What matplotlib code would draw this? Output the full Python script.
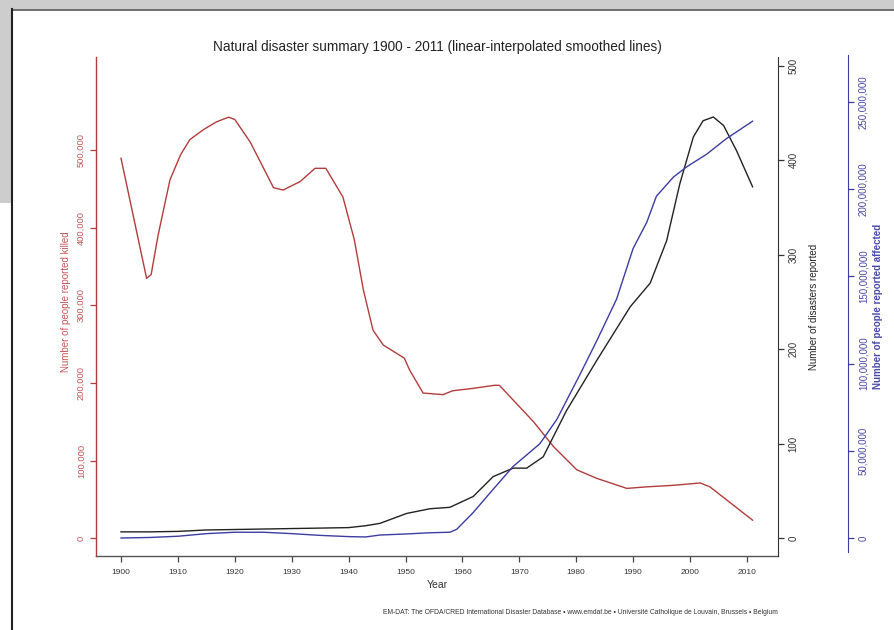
import numpy as np
import matplotlib
matplotlib.use("Agg")
import matplotlib.pyplot as plt
from matplotlib.patches import Rectangle
from matplotlib.lines import Line2D
from matplotlib.ticker import FuncFormatter

plt.rcParams['font.family'] = ['Liberation Sans', 'DejaVu Sans']

# people killed (red)
killed_years = [1900, 1904.5, 1905.3, 1906.5, 1908.6, 1910.5, 1912.1, 1914.5, 1916.8, 1918.9,
                1920, 1922.7, 1925, 1926.8, 1928.5, 1931.5, 1934.1, 1936, 1939, 1941,
                1942.6, 1944.3, 1946.1, 1949.8, 1950.7, 1953.1, 1956.6, 1958.3, 1961.8, 1965.6,
                1966.5, 1972.5, 1976, 1980.1, 1983.6, 1988.9, 1992.4, 1997.1, 2001.8, 2003.5, 2011]
killed = [490e3, 335e3, 340e3, 390e3, 462e3, 495e3, 514e3, 527e3, 537e3, 543e3,
          540e3, 511e3, 478e3, 452e3, 449e3, 460e3, 477e3, 477e3, 440e3, 385e3,
          320e3, 268e3, 249e3, 232e3, 217e3, 187e3, 185e3, 190e3, 193e3, 197e3,
          197e3, 150e3, 118e3, 88e3, 77e3, 64e3, 66e3, 68e3, 71e3, 66e3, 23e3]

# number of disasters (black)
disaster_years = [1900, 1905, 1910, 1915, 1920, 1930, 1940, 1943, 1945.5, 1950.2,
                  1954.3, 1957.8, 1961.9, 1965.4, 1968.9, 1971.3, 1974.2, 1978.3, 1983.6, 1989.5,
                  1993, 1995.9, 1998.2, 2000.6, 2002.3, 2004.1, 2005.9, 2008.2, 2011]
disasters = [6.5, 6.5, 7, 8.5, 9, 10, 11, 13, 15.5, 26,
             31, 32.5, 44, 65, 74, 74, 86, 135, 188, 245,
             270, 315, 375, 425, 442, 446, 437, 410, 372]

# people affected (blue), millions
affected_years = [1900, 1905, 1910, 1915, 1920, 1925, 1930, 1935, 1940, 1943,
                  1945.5, 1950, 1954.3, 1957.8, 1959, 1961.9, 1964.9, 1968.9, 1973.6, 1976.6,
                  1980.7, 1983.6, 1987.1, 1990, 1992.4, 1994.1, 1997.1, 1999.5, 2002.9, 2006.4, 2011]
affected_m = [0, 0.3, 1, 2.5, 3.3, 3.3, 2.5, 1.5, 0.8, 0.6,
              1.7, 2.3, 3, 3.3, 5, 14.6, 26, 41, 54, 68,
              94, 113, 137, 166, 181, 196, 207, 213, 220, 229, 239]

x_ticks = list(range(1900, 2011, 10))
killed_ticks = [0, 100e3, 200e3, 300e3, 400e3, 500e3]
disaster_ticks = [0, 100, 200, 300, 400, 500]
affected_ticks = [0, 50e6, 100e6, 150e6, 200e6, 250e6]

red = '#b23c3c'
red_txt = '#c45656'
blue = '#3c3ca2'
blue_txt = '#4848aa'
black = '#222222'

W, H = 894, 630
fig = plt.figure(figsize=(W / 100, H / 100), dpi=100)

# frame decoration
fig.add_artist(Rectangle((0, 1 - 9 / H), 1, 9 / H, transform=fig.transFigure,
                         facecolor='#cdcdcd', edgecolor='none'))
fig.add_artist(Rectangle((0, 1 - 203 / H), 12 / W, 203 / H, transform=fig.transFigure,
                         facecolor='#cdcdcd', edgecolor='none'))
fig.add_artist(Line2D([12 / W, 1], [1 - 9.5 / H, 1 - 9.5 / H], transform=fig.transFigure,
                      color='#555555', lw=1.2))
fig.add_artist(Line2D([11.5 / W, 11.5 / W], [0, 1 - 9 / H], transform=fig.transFigure,
                      color='#222222', lw=1.5))

left, right, top, bottom = 96, 778, 57, 556
ax = fig.add_axes([left / W, 1 - bottom / H, (right - left) / W, (bottom - top) / H])
ax.patch.set_alpha(0)

ax.set_xlim(1900 - 25 / 5.69, 1900 + (right - 121) / 5.69)
ax.set_ylim(-(bottom - 538) / 77.5 * 100e3, (538 - top) / 77.5 * 100e3)
ax.plot(killed_years, killed, color=red, lw=1.0)

ax.spines['top'].set_visible(False)
ax.spines['right'].set_visible(False)
ax.spines['left'].set_color(red)
ax.spines['bottom'].set_color('#555555')
ax.spines['left'].set_linewidth(1.0)
ax.spines['bottom'].set_linewidth(1.0)

ax.set_xticks(x_ticks)
ax.tick_params(axis='x', length=4.5, width=0.9, color='#444444', labelsize=6, pad=5, labelcolor='#333333')
ax.set_yticks(killed_ticks)
ax.yaxis.set_major_formatter(FuncFormatter(lambda v, p: f'{v:,.0f}'))
ax.tick_params(axis='y', length=4.5, width=0.9, color=red, labelsize=6.7, pad=3, labelcolor=red_txt)
for lab in ax.get_yticklabels():
    lab.set_rotation(90)
    lab.set_va('center')
    lab.set_ha('right')
ax.set_ylabel('Number of people reported killed', color=red_txt, fontsize=7)
ax.yaxis.set_label_coords(-0.037, 0.51)
ax.set_xlabel('Year', fontsize=7.5, color='#333333', labelpad=3)
ax.set_title('Natural disaster summary 1900 - 2011 (linear-interpolated smoothed lines)',
             fontsize=9.8, color='#222222', pad=4)

# disasters axis
ax2 = ax.twinx()
ax2.set_ylim(-(bottom - 538) / 94.4 * 100, (538 - top) / 94.4 * 100)
ax2.plot(disaster_years, disasters, color=black, lw=1.0)
for s in ['top', 'left', 'bottom']:
    ax2.spines[s].set_visible(False)
ax2.spines['right'].set_color('#333333')
ax2.set_yticks(disaster_ticks)
ax2.tick_params(axis='y', length=4.5, width=0.9, color='#333333', labelsize=7, pad=3, labelcolor='#333333')
for lab in ax2.get_yticklabels():
    lab.set_rotation(90)
    lab.set_va('center')
    lab.set_ha('left')
ax2.set_ylabel('Number of disasters reported', fontsize=7, color='#222222')
ax2.yaxis.set_label_coords(1.0455, 0.5)

# affected axis
ax3 = ax.twinx()
ax3.set_ylim(-(bottom - 538) / 87.2 * 50e6, (538 - top) / 87.2 * 50e6)
ax3.plot(affected_years, np.array(affected_m) * 1e6, color=blue, lw=1.0)
for s in ['top', 'left', 'bottom']:
    ax3.spines[s].set_visible(False)
ax3.spines['right'].set_position(('axes', (848 - left) / (right - left)))
ax3.spines['right'].set_color(blue)
ax3.spines['right'].set_bounds(-(552 - 538) / 87.2 * 50e6, (538 - 55) / 87.2 * 50e6)
ax3.set_yticks(affected_ticks)
ax3.yaxis.set_major_formatter(FuncFormatter(lambda v, p: f'{v:,.0f}'))
ax3.tick_params(axis='y', length=4.5, width=0.9, color=blue, labelsize=7, pad=3, labelcolor=blue_txt)
for lab in ax3.get_yticklabels():
    lab.set_rotation(90)
    lab.set_va('center')
    lab.set_ha('left')
ax3.set_ylabel('Number of people reported affected', fontsize=7, color=blue_txt, fontweight='bold')
ax3.yaxis.set_label_coords((873 - left) / (right - left), 0.5)

fig.text(778 / W, 1 - 612 / H,
         'EM-DAT: The OFDA/CRED International Disaster Database \u2022 www.emdat.be \u2022 '
         'Universit\u00e9 Catholique de Louvain, Brussels \u2022 Belgium',
         fontsize=4.85, color='#333333', ha='right', va='center')

fig.savefig('out.png', dpi=100)
